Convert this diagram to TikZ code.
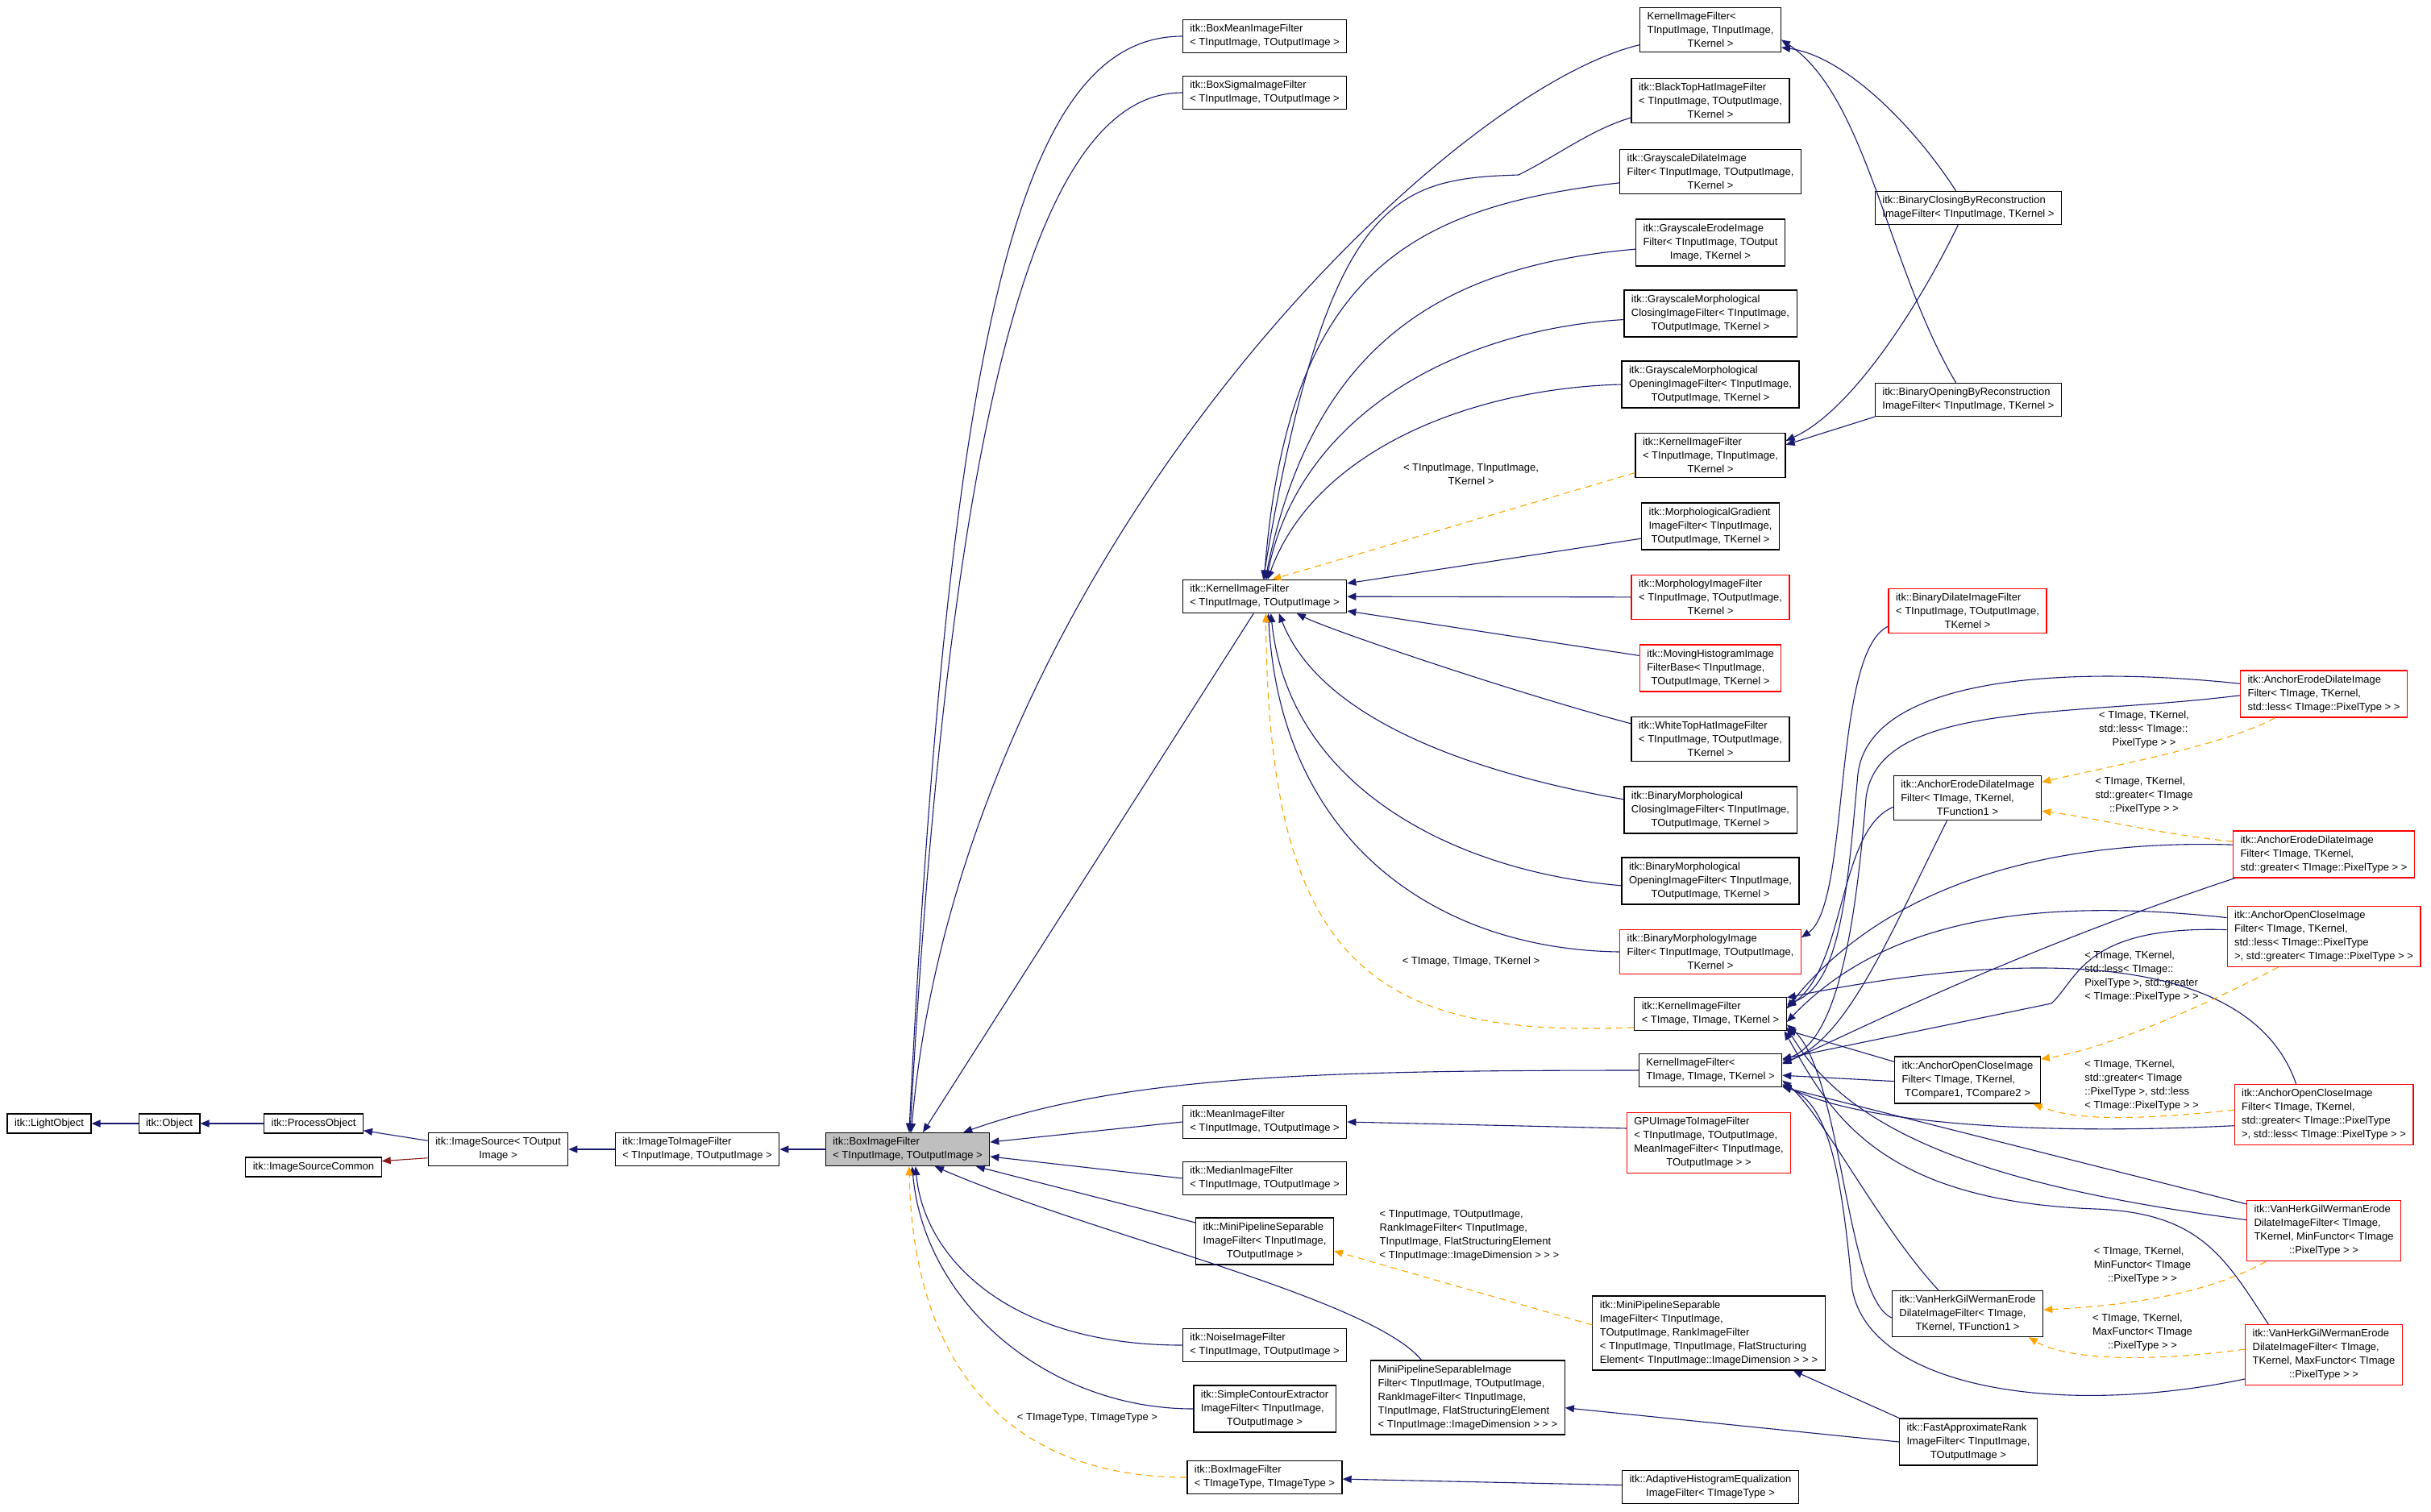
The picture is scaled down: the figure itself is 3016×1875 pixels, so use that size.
\documentclass[tikz,border=0pt]{standalone}
\usepackage{fontspec}
\setmainfont{Liberation Sans}
\usetikzlibrary{
  arrows.meta % For arrow tips
}

\definecolor{kantenblau}{RGB}{25,25,112}
\definecolor{vorlageorange}{RGB}{255,165,0}
\definecolor{dunkelrot}{RGB}{139,26,26}
\definecolor{basisgrau}{RGB}{191,191,191}

% letzte Zeile eines Kastens zentriert
\newcommand{\letzte}[1]{\hfil#1}

\begin{document}
\begin{tikzpicture}[
      x=1pt, y=-1pt, % one unit per pixel, y downwards
      >={Triangle[length=11pt,width=9pt]}, % Default arrow tip
      klasse/.style={draw=black, fill=white, line width=1.2pt, inner xsep=9pt,
        inner ysep=6pt, align=left, font=\fontsize{13}{17}\selectfont}, % Style for class boxes
      basis/.style={klasse, fill=basisgrau}, % Style for the documented class
      fremd/.style={klasse, draw=red}, % Style for classes without docs
      erbt/.style={kantenblau, line width=1.1pt, ->}, % Style for public inheritance
      privat/.style={dunkelrot, line width=1.1pt, ->}, % Style for private inheritance
      vorl/.style={vorlageorange, line width=1.1pt, dash pattern=on 8pt off 6pt, ->}, % Style for template instances
      param/.style={align=left, inner sep=0pt, font=\fontsize{13}{17}\selectfont}, % Style for template arguments
    ]

    \path[fill=white, use as bounding box] (0,0) rectangle (3016,1875);

    % Knoten: linke Kette
    \node[klasse] (lightobj)  at (61,1394)   {itk::LightObject};
    \node[klasse] (object)    at (210,1394)  {itk::Object};
    \node[klasse] (procobj)   at (389,1394)  {itk::ProcessObject};
    \node[klasse] (srccommon) at (389,1448)  {itk::ImageSourceCommon};
    \node[klasse] (imgsource) at (618,1426)  {itk::ImageSource< TOutput\\\letzte{Image >}};
    \node[klasse] (imgtoimg)  at (865,1426)  {itk::ImageToImageFilter\\< TInputImage, TOutputImage >};
    \node[basis]  (boxfilter) at (1126,1426) {itk::BoxImageFilter\\< TInputImage, TOutputImage >};

    % Knoten: zweite Spalte
    \node[klasse] (boxmean)   at (1569,45)   {itk::BoxMeanImageFilter\\< TInputImage, TOutputImage >};
    \node[klasse] (boxsigma)  at (1569,115)  {itk::BoxSigmaImageFilter\\< TInputImage, TOutputImage >};
    \node[klasse] (kernelmid) at (1569,740)  {itk::KernelImageFilter\\< TInputImage, TOutputImage >};
    \node[klasse] (mean)      at (1569,1392) {itk::MeanImageFilter\\< TInputImage, TOutputImage >};
    \node[klasse] (median)    at (1569,1462) {itk::MedianImageFilter\\< TInputImage, TOutputImage >};
    \node[klasse] (minipipe)  at (1569,1540) {itk::MiniPipelineSeparable\\ImageFilter< TInputImage,\\\letzte{TOutputImage >}};
    \node[klasse] (noise)     at (1569,1669) {itk::NoiseImageFilter\\< TInputImage, TOutputImage >};
    \node[klasse] (contour)   at (1569,1748) {itk::SimpleContourExtractor\\ImageFilter< TInputImage,\\\letzte{TOutputImage >}};
    \node[klasse] (boxtype)   at (1569,1833) {itk::BoxImageFilter\\< TImageType, TImageType >};
    \node[klasse] (miniimg)   at (1821,1734) {MiniPipelineSeparableImage\\Filter< TInputImage, TOutputImage,\\RankImageFilter< TInputImage,\\TInputImage, FlatStructuringElement\\< TInputImage::ImageDimension > > >};

    % Knoten: dritte Spalte
    \node[klasse] (kerneltop)   at (2122,37)   {KernelImageFilter<\\TInputImage, TInputImage,\\\letzte{TKernel >}};
    \node[klasse] (blacktophat) at (2122,125)  {itk::BlackTopHatImageFilter\\< TInputImage, TOutputImage,\\\letzte{TKernel >}};
    \node[klasse] (graydilate)  at (2122,213)  {itk::GrayscaleDilateImage\\Filter< TInputImage, TOutputImage,\\\letzte{TKernel >}};
    \node[klasse] (grayerode)   at (2122,301)  {itk::GrayscaleErodeImage\\Filter< TInputImage, TOutput\\\letzte{Image, TKernel >}};
    \node[klasse] (grayclosing) at (2122,389)  {itk::GrayscaleMorphological\\ClosingImageFilter< TInputImage,\\\letzte{TOutputImage, TKernel >}};
    \node[klasse] (grayopening) at (2122,477)  {itk::GrayscaleMorphological\\OpeningImageFilter< TInputImage,\\\letzte{TOutputImage, TKernel >}};
    \node[klasse] (kernelii)    at (2122,565)  {itk::KernelImageFilter\\< TInputImage, TInputImage,\\\letzte{TKernel >}};
    \node[klasse] (morphgrad)   at (2122,653)  {itk::MorphologicalGradient\\ImageFilter< TInputImage,\\\letzte{TOutputImage, TKernel >}};
    \node[fremd]  (morphology)  at (2122,741)  {itk::MorphologyImageFilter\\< TInputImage, TOutputImage,\\\letzte{TKernel >}};
    \node[fremd]  (movinghist)  at (2122,829)  {itk::MovingHistogramImage\\FilterBase< TInputImage,\\\letzte{TOutputImage, TKernel >}};
    \node[klasse] (whitetophat) at (2122,917)  {itk::WhiteTopHatImageFilter\\< TInputImage, TOutputImage,\\\letzte{TKernel >}};
    \node[klasse] (binclosing)  at (2122,1005) {itk::BinaryMorphological\\ClosingImageFilter< TInputImage,\\\letzte{TOutputImage, TKernel >}};
    \node[klasse] (binopening)  at (2122,1093) {itk::BinaryMorphological\\OpeningImageFilter< TInputImage,\\\letzte{TOutputImage, TKernel >}};
    \node[fremd]  (binmorph)    at (2122,1181) {itk::BinaryMorphologyImage\\Filter< TInputImage, TOutputImage,\\\letzte{TKernel >}};
    \node[klasse] (kernelitk)   at (2122,1258) {itk::KernelImageFilter\\< TImage, TImage, TKernel >};
    \node[klasse] (kernelimg)   at (2122,1328) {KernelImageFilter<\\\letzte{TImage, TImage, TKernel >}};
    \node[fremd]  (gpu)         at (2120,1418) {GPUImageToImageFilter\\< TInputImage, TOutputImage,\\MeanImageFilter< TInputImage,\\\letzte{TOutputImage > >}};
    \node[klasse] (minirank)    at (2120,1654) {itk::MiniPipelineSeparable\\ImageFilter< TInputImage,\\TOutputImage, RankImageFilter\\< TInputImage, TInputImage, FlatStructuring\\Element< TInputImage::ImageDimension > > >};
    \node[klasse] (adaptive)    at (2122,1845) {itk::AdaptiveHistogramEqualization\\\letzte{ImageFilter< TImageType >}};

    % Knoten: vierte Spalte
    \node[klasse] (binrecclose) at (2442,258)  {itk::BinaryClosingByReconstruction\\ImageFilter< TInputImage, TKernel >};
    \node[klasse] (binrecopen)  at (2442,496)  {itk::BinaryOpeningByReconstruction\\ImageFilter< TInputImage, TKernel >};
    \node[fremd]  (bindilate)   at (2441,758)  {itk::BinaryDilateImageFilter\\< TInputImage, TOutputImage,\\\letzte{TKernel >}};
    \node[klasse] (aedfunc)     at (2441,990)  {itk::AnchorErodeDilateImage\\Filter< TImage, TKernel,\\\letzte{TFunction1 >}};
    \node[klasse] (aoccmp)      at (2441,1340) {itk::AnchorOpenCloseImage\\Filter< TImage, TKernel,\\\letzte{TCompare1, TCompare2 >}};
    \node[klasse] (vhfunc)      at (2441,1630) {itk::VanHerkGilWermanErode\\DilateImageFilter< TImage,\\\letzte{TKernel, TFunction1 >}};
    \node[klasse] (fastrank)    at (2442,1789) {itk::FastApproximateRank\\ImageFilter< TInputImage,\\\letzte{TOutputImage >}};

    % Knoten: rechte Spalte
    \node[fremd] (aedless)    at (2883,861)  {itk::AnchorErodeDilateImage\\Filter< TImage, TKernel,\\\letzte{std::less< TImage::PixelType > >}};
    \node[fremd] (aedgreater) at (2883,1060) {itk::AnchorErodeDilateImage\\Filter< TImage, TKernel,\\\letzte{std::greater< TImage::PixelType > >}};
    \node[fremd] (aoclg)      at (2883,1162) {itk::AnchorOpenCloseImage\\Filter< TImage, TKernel,\\std::less< TImage::PixelType\\>, std::greater< TImage::PixelType > >};
    \node[fremd] (aocgl)      at (2883,1383) {itk::AnchorOpenCloseImage\\Filter< TImage, TKernel,\\std::greater< TImage::PixelType\\>, std::less< TImage::PixelType > >};
    \node[fremd] (vhmin)      at (2883,1527) {itk::VanHerkGilWermanErode\\DilateImageFilter< TImage,\\\letzte{TKernel, MinFunctor< TImage}\\\letzte{::PixelType > >}};
    \node[fremd] (vhmax)      at (2883,1681) {itk::VanHerkGilWermanErode\\DilateImageFilter< TImage,\\\letzte{TKernel, MaxFunctor< TImage}\\\letzte{::PixelType > >}};

    % Vorlagenargumente
    \node[param] (lkii)     at (1825,589)  {< TInputImage, TInputImage,\\\letzte{TKernel >}};
    \node[param] (lkitk)    at (1825,1193) {< TImage, TImage, TKernel >};
    \node[param] (lrank)    at (1823,1533) {< TInputImage, TOutputImage,\\RankImageFilter< TInputImage,\\TInputImage, FlatStructuringElement\\< TInputImage::ImageDimension > > >};
    \node[param] (lboxtype) at (1349,1759) {< TImageType, TImageType >};
    \node[param] (laedl)    at (2660,905)  {< TImage, TKernel,\\std::less< TImage::\\\letzte{PixelType > >}};
    \node[param] (laedg)    at (2660,987)  {< TImage, TKernel,\\std::greater< TImage\\\letzte{::PixelType > >}};
    \node[param] (laoclg)   at (2657,1212) {< TImage, TKernel,\\std::less< TImage::\\PixelType >, std::greater\\< TImage::PixelType > >};
    \node[param] (laocgl)   at (2657,1347) {< TImage, TKernel,\\std::greater< TImage\\::PixelType >, std::less\\< TImage::PixelType > >};
    \node[param] (lvhmin)   at (2658,1570) {< TImage, TKernel,\\MinFunctor< TImage\\\letzte{::PixelType > >}};
    \node[param] (lvhmax)   at (2658,1653) {< TImage, TKernel,\\MaxFunctor< TImage\\\letzte{::PixelType > >}};

    % Vererbung, gerade
    \foreach \a/\b in {object/lightobj, procobj/object, imgtoimg/imgsource,
      boxfilter/imgtoimg, morphology/kernelmid, adaptive/boxtype}
    \draw[erbt] (\a) -- (\b);

    \draw[erbt] (imgsource.173) -- (procobj.-8);
    \draw[privat] (imgsource.187) -- (srccommon.5);

    % Vererbung nach BoxImageFilter
    \draw[erbt] (boxmean.west) .. controls +(-200,0) and +(50,-1000) .. (boxfilter.85);
    \draw[erbt] (boxsigma.west) .. controls +(-180,0) and +(50,-900) .. (boxfilter.82);
    \draw[erbt] (kerneltop.192) .. controls +(-250,60) and +(60,-700) .. (boxfilter.78);
    \draw[erbt] (kernelmid.-123) -- (boxfilter.48);
    \draw[erbt] (kernelimg.west) .. controls +(-400,0) and +(200,-70) .. (boxfilter.17);
    \draw[erbt] (mean.west) -- (boxfilter.5);
    \draw[erbt] (median.west) -- (boxfilter.-5);
    \draw[erbt] (minipipe.165) -- (boxfilter.-14);
    \draw[erbt] (miniimg.141) .. controls (1700,1610) and (1350,1530) .. (boxfilter.-32);
    \draw[erbt] (noise.west) .. controls +(-220,0) and +(10,110) .. (boxfilter.-65);
    \draw[erbt] (contour.west) .. controls +(-180,0) and +(15,170) .. (boxfilter.-75);
    \draw[vorl] (boxtype.west) .. controls +(-220,0) and +(5,250) .. (boxfilter.-85);

    % Vererbung nach KernelImageFilter
    \draw[erbt] (blacktophat.192) .. controls +(-50,15) and +(50,-25) .. (1884,217)
      .. controls +(-150,5) and +(80,-480) .. (kernelmid.95);
    \draw[erbt] (graydilate.187) .. controls +(-260,30) and +(30,-380) .. (kernelmid.92);
    \draw[erbt] (grayerode.185) .. controls +(-230,20) and +(60,-300) .. (kernelmid.88);
    \draw[erbt] (grayclosing.184) .. controls +(-213,13) and +(40,-200) .. (kernelmid.84);
    \draw[erbt] (grayopening.west) .. controls +(-190,5) and +(57,-158) .. (kernelmid.80);
    \draw[vorl] (kernelii.193) -- (kernelmid.66);
    \draw[erbt] (morphgrad.190) -- (kernelmid.9);
    \draw[erbt] (movinghist.170) -- (kernelmid.-10);
    \draw[erbt] (whitetophat.169) .. controls +(-150,-40) and +(40,20) .. (kernelmid.-28);
    \draw[erbt] (binclosing.173) .. controls +(-183,-32) and +(52,133) .. (kernelmid.-50);
    \draw[erbt] (binopening.183) .. controls +(-211,-18) and +(22,213) .. (kernelmid.-70);
    \draw[erbt] (binmorph.west) .. controls +(-227,-3) and +(15,283) .. (kernelmid.-78);
    \draw[vorl] (kernelitk.190) .. controls +(-325,14) and +(3,433) .. (kernelmid.-86);

    % Rekonstruktionsfilter
    \draw[erbt] (binrecclose.126) .. controls +(-55,-85) and +(76,10) .. (kerneltop.-14);
    \draw[erbt] (binrecopen.126) .. controls +(-85,-143) and +(106,70) .. (kerneltop.-8);
    \draw[erbt] (binrecclose.-121) .. controls +(-48,99) and +(82,-37) .. (kernelii.11);
    \draw[erbt] (binrecopen.south west) -- (kernelii.8);
    \draw[erbt] (bindilate.191) .. controls +(-70,33) and +(61,-42) .. (binmorph.9);

    % untere Mitte
    \draw[erbt] (gpu.170) -- (mean.east);
    \draw[vorl] (minirank.176) -- (minipipe.-8);
    \draw[erbt] (fastrank.north west) -- (minirank.-24);
    \draw[erbt] (fastrank.west) -- (miniimg.-6);

    % Buendel nach KernelImageFilter< TImage, TImage, TKernel >
    \draw[erbt] (aedless.173) .. controls (2560,825) and (2320,840) .. (2305,960)
      .. controls (2292,1100) and (2285,1220) .. (kernelitk.7);
    \draw[erbt] (aedless.181) .. controls (2560,890) and (2330,870) .. (2315,990)
      .. controls (2302,1150) and (2280,1290) .. (kernelimg.8);
    \draw[erbt] (aedgreater.174) .. controls (2500,1040) and (2320,1120) .. (kernelitk.4);
    \draw[erbt] (aedgreater.-165) .. controls (2500,1180) and (2300,1280) .. (kernelimg.5);
    \draw[erbt] (aoclg.169) .. controls (2500,1110) and (2330,1150) .. (kernelitk.-6);
    \draw[erbt] (aoclg.176) .. controls (2585,1148) and (2578,1215) .. (2545,1245) -- (kernelimg.9);
    \draw[erbt] (aocgl.132) .. controls (2790,1175) and (2500,1180) .. (kernelitk.12);
    \draw[erbt] (aocgl.187) .. controls (2500,1410) and (2300,1390) .. (kernelimg.-11);
    \draw[erbt] (aoccmp.166) -- (kernelitk.-12);
    \draw[erbt] (aoccmp.181) -- (kernelimg.-4);
    \draw[erbt] (vhmin.161) -- (kernelimg.-13);
    \draw[erbt] (vhmin.172) .. controls (2450,1470) and (2290,1400) .. (kernelitk.-10);
    \draw[erbt] (vhmax.151) .. controls (2760,1560) and (2730,1505) .. (2600,1500)
      .. controls (2330,1490) and (2270,1380) .. (kernelitk.-13);
    \draw[erbt] (vhmax.197) .. controls (2550,1760) and (2320,1720) .. (2298,1600)
      .. controls (2285,1460) and (2270,1370) .. (kernelimg.-12);
    \draw[erbt] (vhfunc.141) .. controls (2330,1520) and (2260,1380) .. (kernelimg.-8);
    \draw[erbt] (vhfunc.183) .. controls (2290,1610) and (2285,1330) .. (kernelitk.-8);
    \draw[erbt] (aedfunc.187) .. controls (2280,1030) and (2290,1200) .. (kernelitk.5);
    \draw[erbt] (aedfunc.-132) .. controls (2340,1170) and (2290,1290) .. (kernelimg.6);

    % Vorlageninstanzen rechts
    \draw[vorl] (aedless.-154) .. controls (2760,925) and (2620,950) .. (aedfunc.12);
    \draw[vorl] (aedgreater.172) .. controls (2680,1035) and (2600,1015) .. (aedfunc.-10);
    \draw[vorl] (aoclg.-146) .. controls (2750,1240) and (2620,1300) .. (aoccmp.16);
    \draw[vorl] (aocgl.177) .. controls (2630,1392) and (2570,1388) .. (aoccmp.-20);
    \draw[vorl] (vhmin.-152) .. controls (2740,1605) and (2640,1620) .. (vhfunc.3);
    \draw[vorl] (vhmax.176) .. controls (2650,1692) and (2560,1685) .. (vhfunc.-21);

  \end{tikzpicture}
\end{document}
